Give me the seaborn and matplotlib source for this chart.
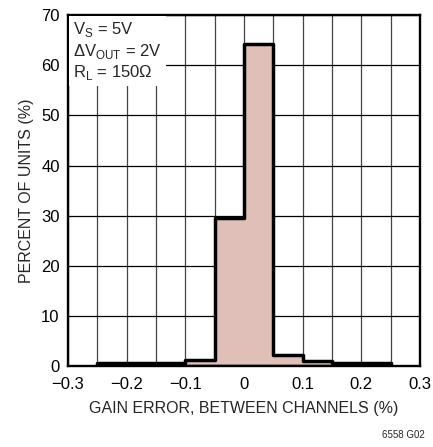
import numpy as np
import matplotlib
matplotlib.use("Agg")
import matplotlib.pyplot as plt
import seaborn as sns

# Histogram data (bin edges in %, percent of units per bin)
bin_edges = [-0.25, -0.2, -0.15, -0.1, -0.05, 0.0, 0.05, 0.1, 0.15, 0.2, 0.25]
percent_units = [0.6, 0.6, 0.6, 1.2, 29.5, 64.2, 2.2, 1.1, 0.6, 0.6]

x_ticks = [-0.3, -0.2, -0.1, 0, 0.1, 0.2, 0.3]
x_tick_labels = ["\u22120.3", "\u22120.2", "\u22120.1", "0", "0.1", "0.2", "0.3"]
y_ticks = [0, 10, 20, 30, 40, 50, 60, 70]

sns.set_style("white")
plt.rcParams["font.family"] = ["Liberation Sans Narrow", "Liberation Sans", "DejaVu Sans"]
plt.rcParams["mathtext.fontset"] = "custom"
plt.rcParams["mathtext.rm"] = "Liberation Sans"

fig = plt.figure(figsize=(4.33, 4.47), dpi=100)
ax = fig.add_axes([0.157, 0.181, 0.813, 0.785])

centers = [(bin_edges[i] + bin_edges[i + 1]) / 2 for i in range(len(percent_units))]

sns.histplot(
    x=centers,
    weights=percent_units,
    bins=bin_edges,
    element="step",
    fill=True,
    color="#dfbfb8",
    alpha=1.0,
    edgecolor="black",
    linewidth=2.5,
    ax=ax,
    zorder=3,
)

ax.set_xlim(-0.3, 0.3)
ax.set_ylim(0, 70)
ax.set_xticks(x_ticks)
ax.set_xticklabels(x_tick_labels)
ax.set_yticks(y_ticks)
ax.set_xticks(np.arange(-0.3, 0.31, 0.05), minor=True)

ax.grid(True, which="major", axis="y", color="black", linewidth=0.9)
ax.grid(True, which="both", axis="x", color="#444444", linewidth=0.9)
ax.set_axisbelow(False)
for line in ax.get_xgridlines() + ax.get_ygridlines():
    line.set_zorder(4)

for s in ax.spines.values():
    s.set_color("black")
    s.set_linewidth(1.7)
    s.set_zorder(6)

ax.tick_params(axis="both", which="both", length=0, labelsize=12, colors="black")
ax.tick_params(axis="x", pad=8)
ax.tick_params(axis="y", pad=6)

ax.set_xlabel("GAIN ERROR, BETWEEN CHANNELS (%)", fontsize=11.5, labelpad=6)
ax.set_ylabel("PERCENT OF UNITS (%)", fontsize=11.5, labelpad=5)

ax.text(
    0.015, 0.985,
    "V$_\\mathregular{S}$ = 5V\n\u0394V$_\\mathregular{OUT}$ = 2V\nR$_\\mathregular{L}$ = 150\u03a9",
    transform=ax.transAxes, ha="left", va="top", fontsize=12, linespacing=1.15,
    zorder=7,
    bbox=dict(boxstyle="square,pad=0.25", facecolor="white", edgecolor="none"),
)

fig.text(0.98, 0.015, "6558 G02", ha="right", va="bottom", fontsize=7)

fig.savefig("out.png", dpi=100)
